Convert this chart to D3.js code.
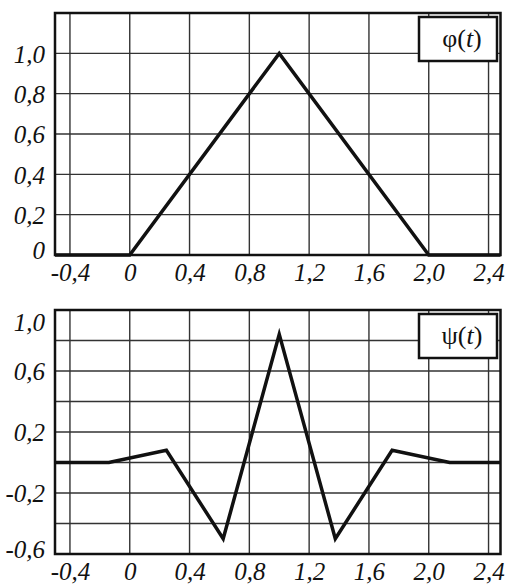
<!DOCTYPE html>
<html>
<head>
<meta charset="utf-8">
<style>
    body { margin: 0; background: white; }
    svg { display: block; }
    .lbl { font-family: "Liberation Serif", "Times New Roman", serif; font-style: italic; font-size: 25px; fill: #111; }
    .leg { font-family: "Liberation Serif", "Times New Roman", serif; font-size: 26px; fill: #111; }
</style>
</head>
<body>
<svg width="506" height="584"></svg>
<script src="https://d3js.org/d3.v7.min.js"></script>
<script>
// data
const xTicks = [-0.4, 0, 0.4, 0.8, 1.2, 1.6, 2.0, 2.4];

const phiT = [-0.5, 0, 1.0, 2.0, 2.48];
const phiV = [0, 0, 1.0, 0, 0];
const phiGrid = [0, 0.2, 0.4, 0.6, 0.8, 1.0, 1.2];
const phiLabels = [0, 0.2, 0.4, 0.6, 0.8, 1.0];

const psiT = [-0.5, -0.14, 0.245, 0.625, 1.0, 1.375, 1.755, 2.14, 2.48];
const psiV = [0, 0, 0.08, -0.5, 0.84, -0.5, 0.08, 0, 0];
const psiGrid = [-0.6, -0.4, -0.2, 0, 0.2, 0.4, 0.6, 0.8, 1.0];
const psiLabels = [1.0, 0.6, 0.2, -0.2, -0.6];

const svg = d3.select("svg");
const left = 55, right = 500.5;

const x = d3.scaleLinear().domain([-0.5, 2.48]).range([left, right]);

const fmt = v => v === 0 ? "0" : v.toFixed(1).replace(".", ",");

function panel(opts) {
    const {top, bottom, domain, grid, labels, ts, vs, name, legTop} = opts;
    const y = d3.scaleLinear().domain(domain).range([bottom, top]);
    const g = svg.append("g");

    // grid
    g.append("g").selectAll("line").data(grid).join("line")
        .attr("x1", left).attr("x2", right)
        .attr("y1", d => y(d)).attr("y2", d => y(d))
        .attr("stroke", "#333").attr("stroke-width", 1.4);
    g.append("g").selectAll("line").data(xTicks).join("line")
        .attr("x1", d => x(d)).attr("x2", d => x(d))
        .attr("y1", top).attr("y2", bottom)
        .attr("stroke", "#333").attr("stroke-width", 1.4);

    // curve
    g.append("path")
        .datum(d3.zip(ts, vs))
        .attr("fill", "none")
        .attr("stroke", "#111")
        .attr("stroke-width", 3.5)
        .attr("stroke-linejoin", "miter")
        .attr("d", d3.line().x(d => x(d[0])).y(d => y(d[1])));

    // frame
    g.append("rect")
        .attr("x", left).attr("y", top)
        .attr("width", right - left).attr("height", bottom - top)
        .attr("fill", "none").attr("stroke", "#111").attr("stroke-width", 2.5);

    // legend box
    g.append("rect")
        .attr("x", 419).attr("y", legTop)
        .attr("width", 78).attr("height", 44)
        .attr("fill", "white").attr("stroke", "#111").attr("stroke-width", 2.5);
    const lt = g.append("text").attr("class", "leg")
        .attr("x", 462).attr("y", legTop + 30)
        .attr("text-anchor", "middle");
    lt.append("tspan").text(name + "(");
    lt.append("tspan").attr("font-style", "italic").text("t");
    lt.append("tspan").text(")");

    // y labels
    g.append("g").selectAll("text").data(labels).join("text")
        .attr("class", "lbl")
        .attr("x", 45)
        .attr("y", d => Math.max(top + 13, Math.min(bottom - 4, y(d) + 1)))
        .attr("dy", "0.33em")
        .attr("text-anchor", "end")
        .text(fmt);

    // x labels
    const ax = g.append("g")
        .attr("transform", `translate(0,${bottom})`)
        .call(d3.axisBottom(x).tickValues(xTicks).tickSize(0).tickPadding(0).tickFormat(fmt));
    ax.select(".domain").remove();
    ax.selectAll("text")
        .attr("class", "lbl")
        .attr("font-family", null).attr("font-size", null)
        .attr("dy", null).attr("y", 26);
}

panel({top: 13, bottom: 255, domain: [0, 1.2], grid: phiGrid, labels: phiLabels,
       ts: phiT, vs: phiV, name: "φ", legTop: 17});
panel({top: 310, bottom: 554, domain: [-0.6, 1.0], grid: psiGrid, labels: psiLabels,
       ts: psiT, vs: psiV, name: "ψ", legTop: 314});
</script>
</body>
</html>
